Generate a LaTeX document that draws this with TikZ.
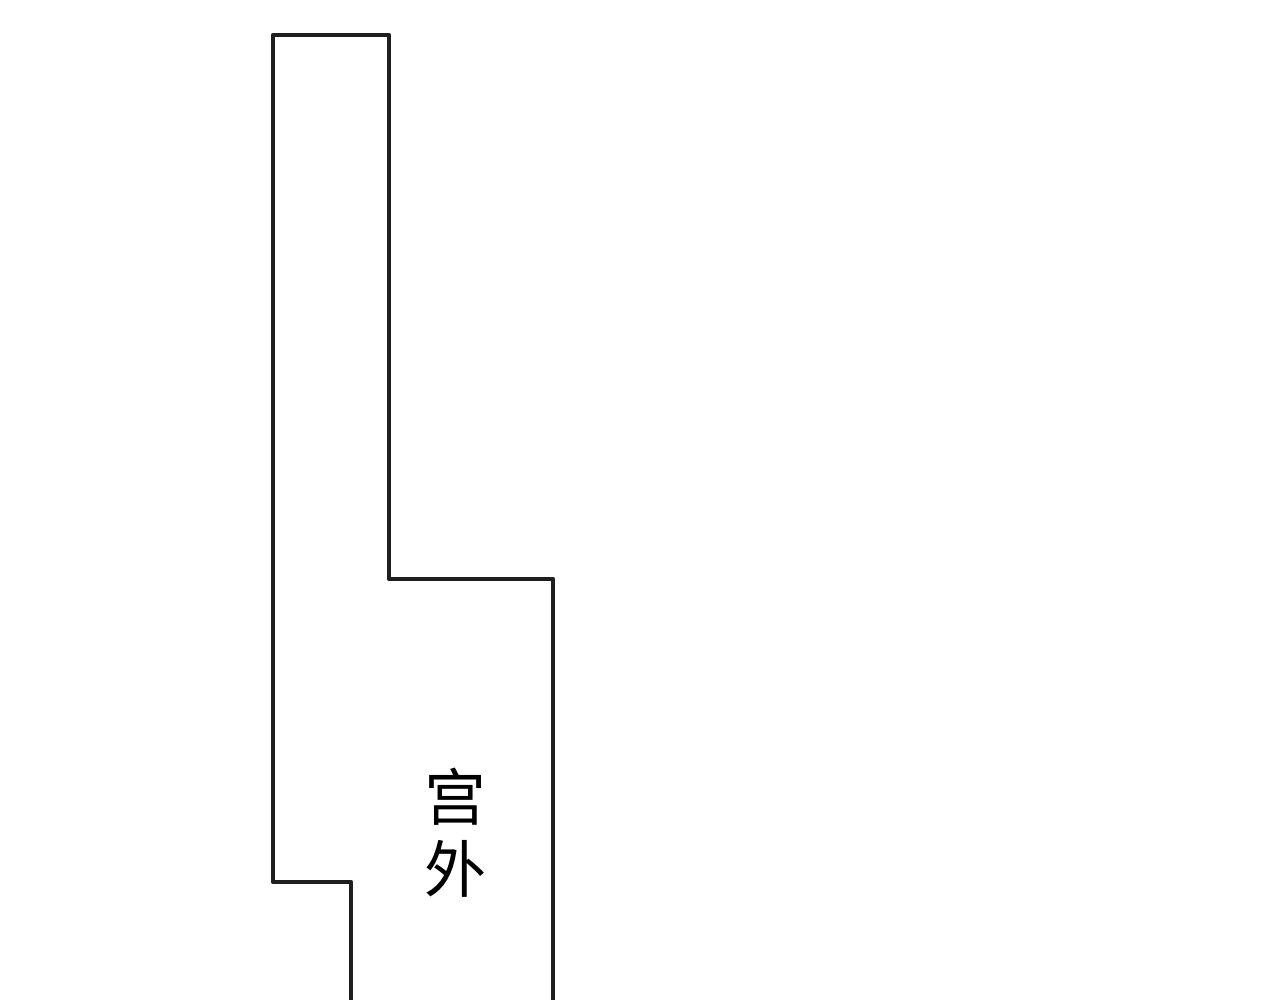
\documentclass[tikz,border=0pt]{standalone}
\usepackage{fontspec}
\newfontfamily\cjk{Noto Sans CJK SC}
\tikzset{wall/.style={draw=black!88, line width=4.8pt, line join=round},
lbl/.style={font=\cjk\fontsize{62pt}{72pt}\selectfont, align=center, inner sep=0pt}}
\begin{document}
\begin{tikzpicture}[x=1pt,y=-1pt]
\useasboundingbox (0,0) rectangle (1280,1000);
\draw[wall] (351,1003) -- (351,882) -- (273,882) -- (273,35) -- (389,35) -- (389,579) -- (553,579) -- (553,1003);
\node[lbl] (t) at (455,833) {宫\\外};
\end{tikzpicture}
\end{document}
